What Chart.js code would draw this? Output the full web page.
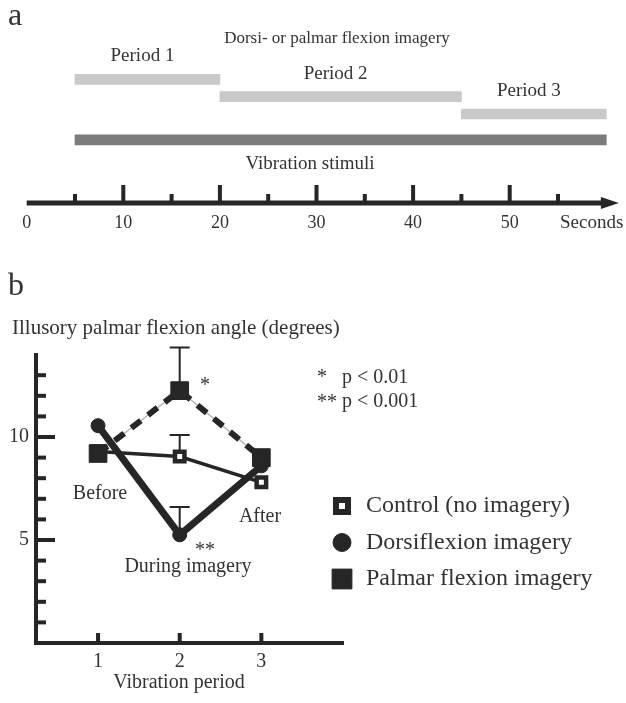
<!DOCTYPE html>
<html>
<head>
<meta charset="utf-8">
<script src="https://cdn.jsdelivr.net/npm/chart.js@4.4.1/dist/chart.umd.min.js"></script>
<style>
  html, body { margin: 0; padding: 0; background: #fff; }
  #wrap { position: relative; width: 626px; height: 703px; overflow: hidden; }
  #wrap canvas { position: absolute; left: 0; }
  #timeline { top: 0; }
  #angles { top: 245px; }
</style>
</head>
<body>
<div id="wrap">
  <canvas id="timeline" width="626" height="245"></canvas>
  <canvas id="angles" width="626" height="458"></canvas>
</div>
<script>
const SERIF = "'Liberation Serif', 'Times New Roman', serif";
const INK = '#262626';
const TEXT = '#333333';

// panel a: protocol timeline (seconds)
const barLabels = ['Period 1', 'Period 2', 'Period 3', 'Vibration stimuli'];
const barStart  = [5, 20, 45, 5];
const barEnd    = [20, 45, 60, 60];
const barLane   = [1, 2, 3, 4.5];
const secondLabels = [0, 10, 20, 30, 40, 50];
const secondMarks  = [5, 10, 15, 20, 25, 30, 35, 40, 45, 50, 55];
const axisEnd = 61.3;

// panel b: illusory angle per vibration period (mean, upper error)
const periods     = [1, 2, 3];
const controlMean = [9.3, 9.05, 7.8];
const controlErr  = [null, 1.05, null];
const dorsiMean   = [10.55, 5.25, 8.6];
const dorsiErr    = [null, 1.35, null];
const palmarMean  = [9.2, 12.25, 9.0];
const palmarErr   = [null, 2.1, null];
const angleMarks  = [1, 2, 3, 4, 5, 6, 7, 8, 9, 10, 11, 12, 13];
const angleLabels = [5, 10];

function text(ctx, str, x, y, size, align, baseline) {
  ctx.save();
  ctx.font = size + 'px ' + SERIF;
  ctx.fillStyle = TEXT;
  ctx.textAlign = align || 'center';
  ctx.textBaseline = baseline || 'middle';
  ctx.fillText(str, x, y);
  ctx.restore();
}

const timelinePlugin = {
  id: 'timelineDecor',
  afterDraw(chart) {
    const { ctx, chartArea } = chart;
    const xs = chart.scales.x, ys = chart.scales.y;
    const y0 = chartArea.bottom;
    const x0 = xs.getPixelForValue(0);
    const xe = xs.getPixelForValue(axisEnd);

    ctx.save();
    ctx.fillStyle = INK;
    ctx.strokeStyle = INK;
    ctx.lineWidth = 5;
    ctx.beginPath();
    ctx.moveTo(x0, y0);
    ctx.lineTo(xe - 14, y0);
    ctx.stroke();
    ctx.beginPath();
    ctx.moveTo(xe, y0);
    ctx.lineTo(xe - 18, y0 - 6);
    ctx.lineTo(xe - 18, y0 + 6);
    ctx.closePath();
    ctx.fill();
    secondMarks.forEach(s => {
      const h = s % 10 === 0 ? 18 : 9;
      ctx.fillRect(xs.getPixelForValue(s) - 2, y0 - h, 4, h);
    });
    ctx.restore();

    text(ctx, 'a', 8, 25, 32, 'left', 'alphabetic');
    text(ctx, 'Dorsi- or palmar flexion imagery', 337, 39, 17);
    for (let i = 0; i < 3; i++) {
      const mid = (barStart[i] + barEnd[i]) / 2;
      text(ctx, barLabels[i], xs.getPixelForValue(mid) - 5, ys.getPixelForValue(barLane[i]) - 23, 19);
    }
    text(ctx, barLabels[3], 310, 164, 19);
    text(ctx, 'Seconds', 560, 223, 19, 'left');
  }
};

new Chart(document.getElementById('timeline'), {
  type: 'bar',
  data: {
    datasets: [{
      data: barLabels.map((_, i) => ({ x: [barStart[i], barEnd[i]], y: barLane[i] })),
      backgroundColor: barLabels.map((_, i) => i === 3 ? '#7c7c7c' : '#c9c9c9'),
      barThickness: 10,
      borderWidth: 0,
      borderSkipped: false
    }]
  },
  options: {
    indexAxis: 'y',
    responsive: false,
    animation: false,
    layout: { padding: { left: 26.7, right: 5.2, top: 52.75, bottom: 0 } },
    plugins: { legend: { display: false }, tooltip: { enabled: false } },
    scales: {
      x: {
        type: 'linear', min: 0, max: 61.5,
        grid: { display: false, drawTicks: false },
        border: { display: false },
        afterBuildTicks: s => { s.ticks = secondLabels.map(v => ({ value: v })); },
        afterFit: s => { s.height = 42; },
        ticks: { padding: 9, color: TEXT, maxRotation: 0, autoSkip: false, font: { family: SERIF, size: 18 } }
      },
      y: { type: 'linear', min: 0, max: 7.61, reverse: true, display: false }
    }
  },
  plugins: [timelinePlugin]
});

const pts = arr => periods.map((p, i) => ({ x: p, y: arr[i] }));

const anglePlugin = {
  id: 'angleDecor',
  beforeDatasetsDraw(chart) {
    const { ctx } = chart;
    const xs = chart.scales.x, ys = chart.scales.y;
    ctx.save();
    ctx.strokeStyle = INK;
    ctx.lineWidth = 2;
    chart.data.datasets.forEach(ds => {
      if (!ds.errors) return;
      ds.errors.forEach((e, i) => {
        if (e == null) return;
        const m = ds.data[i].y;
        const px = xs.getPixelForValue(ds.data[i].x);
        const top = ys.getPixelForValue(m + e);
        ctx.beginPath();
        ctx.moveTo(px, ys.getPixelForValue(m));
        ctx.lineTo(px, top);
        ctx.moveTo(px - 10, top);
        ctx.lineTo(px + 10, top);
        ctx.stroke();
      });
    });
    ctx.restore();
  },
  afterDraw(chart) {
    const { ctx, chartArea } = chart;
    const xs = chart.scales.x, ys = chart.scales.y;

    ctx.save();
    ctx.fillStyle = INK;
    angleMarks.forEach(v => {
      const len = v % 5 === 0 ? 19 : 10;
      ctx.fillRect(chartArea.left, ys.getPixelForValue(v) - 2, len, 4);
    });
    periods.forEach(p => {
      ctx.fillRect(xs.getPixelForValue(p) - 2, chartArea.bottom - 10, 4, 10);
    });

    // legend
    chart.data.datasets.slice(0, 3).forEach((ds, i) => {
      const y = 261 + i * 36.5;
      ctx.fillStyle = ds.pointBackgroundColor;
      ctx.strokeStyle = ds.pointBorderColor;
      ctx.lineWidth = ds.legendBorder;
      Chart.helpers.drawPoint(ctx, {
        pointStyle: ds.pointStyle, radius: ds.legendRadius, rotation: 0, borderWidth: ds.legendBorder
      }, 342, y);
      text(ctx, ds.label, 366, y, 24, 'left');
    });
    ctx.restore();

    text(ctx, 'b', 8, 50, 32, 'left', 'alphabetic');
    text(ctx, 'Illusory palmar flexion angle (degrees)', 12, 83, 21, 'left');
    text(ctx, 'Vibration period', 179, 438, 20);
    text(ctx, 'Before', 100, 249, 20);
    text(ctx, 'After', 260, 272, 20);
    text(ctx, 'During imagery', 188, 322, 20);
    text(ctx, '*', 205, 141, 20);
    text(ctx, '**', 205, 306, 20);
    text(ctx, '*', 317, 133, 20, 'left');
    text(ctx, 'p < 0.01', 342, 133, 20, 'left');
    text(ctx, '**', 317, 158, 20, 'left');
    text(ctx, 'p < 0.001', 342, 157, 20, 'left');
  }
};

new Chart(document.getElementById('angles'), {
  type: 'line',
  data: {
    datasets: [
      {
        label: 'Control (no imagery)', data: pts(controlMean), errors: controlErr,
        borderColor: INK, borderWidth: 3.5,
        pointStyle: 'rect', pointRadius: 6.7, pointBackgroundColor: '#ffffff',
        pointBorderColor: INK, pointBorderWidth: 4.5,
        legendRadius: 8.5, legendBorder: 6, order: 2
      },
      {
        label: 'Dorsiflexion imagery', data: pts(dorsiMean), errors: dorsiErr,
        borderColor: INK, borderWidth: 7, borderCapStyle: 'round',
        pointStyle: 'circle', pointRadius: 7, pointBackgroundColor: INK,
        pointBorderColor: INK, pointBorderWidth: 1,
        legendRadius: 9, legendBorder: 1, order: 1
      },
      {
        label: 'Palmar flexion imagery', data: pts(palmarMean), errors: palmarErr,
        borderColor: INK, borderWidth: 6, borderDash: [12, 9],
        pointStyle: 'rect', pointRadius: 12.5, pointBackgroundColor: INK,
        pointBorderColor: INK, pointBorderWidth: 1,
        legendRadius: 14, legendBorder: 1, order: 0
      },
      {
        label: 'palmar guide', data: pts(palmarMean),
        borderColor: '#b8b8b8', borderWidth: 1.5, pointRadius: 0, order: 3
      }
    ]
  },
  options: {
    responsive: false,
    animation: false,
    layout: { padding: { left: 0, right: 283, top: 109.6, bottom: 0 } },
    plugins: { legend: { display: false }, tooltip: { enabled: false } },
    elements: { line: { tension: 0 } },
    scales: {
      x: {
        type: 'linear', min: 0.24, max: 4.0,
        grid: { display: false, drawTicks: false },
        border: { display: true, width: 4, color: INK },
        afterBuildTicks: s => { s.ticks = periods.map(v => ({ value: v })); },
        afterFit: s => { s.height = 60; },
        ticks: { padding: 7, color: TEXT, font: { family: SERIF, size: 20 } }
      },
      y: {
        type: 'linear', min: 0, max: 14,
        grid: { display: false, drawTicks: false },
        border: { display: true, width: 4, color: INK },
        afterBuildTicks: s => { s.ticks = angleLabels.map(v => ({ value: v })); },
        afterFit: s => { s.width = 36; },
        ticks: { padding: 7, color: TEXT, font: { family: SERIF, size: 20 } }
      }
    }
  },
  plugins: [anglePlugin]
});
</script>
</body>
</html>
